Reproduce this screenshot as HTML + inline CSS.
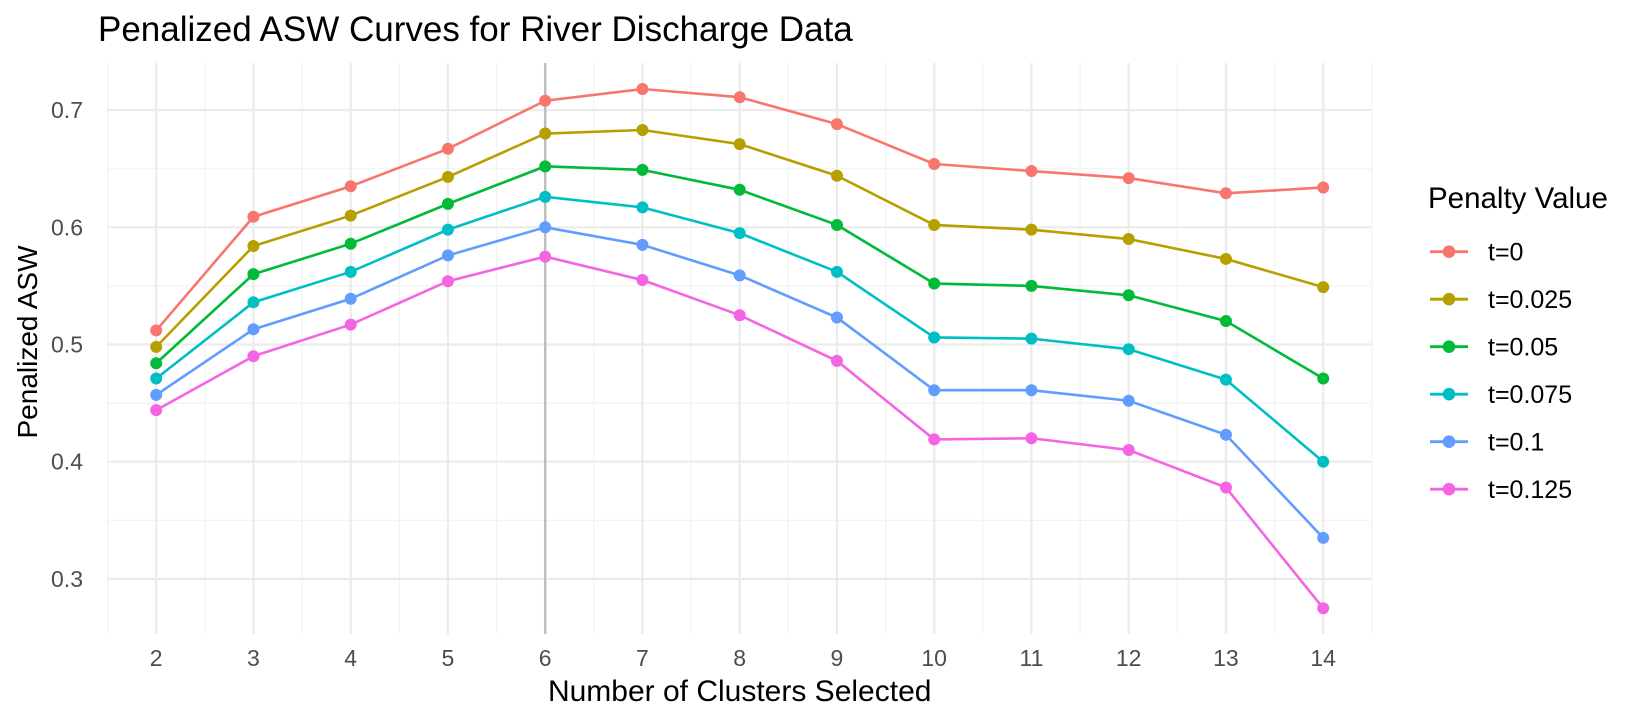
<!DOCTYPE html>
<html><head><meta charset="utf-8"><style>
html,body{margin:0;padding:0;background:#fff;}
svg text{font-family:"Liberation Sans",sans-serif;}
</style></head><body>
<svg id="s" width="1644" height="722" xmlns="http://www.w3.org/2000/svg"></svg>
<script>
const s=document.getElementById('s');
const X=k=>156.2+(k-2)*97.25, Y=v=>110.1+(0.7-v)*1172;
const T=63,B=634,L=107.6,R=1371.8;
let h='';
for(let v=0.25;v<=0.751;v+=0.1){const y=Y(v);if(y>T&&y<B)h+=`<line x1="${L}" x2="${R}" y1="${y}" y2="${y}" stroke="#f2f2f2" stroke-width="1.2"/>`;}
for(let k=1.5;k<=14.6;k+=1)h+=`<line x1="${X(k)}" x2="${X(k)}" y1="${T}" y2="${B}" stroke="#f2f2f2" stroke-width="1.2"/>`;
for(let v=0.3;v<=0.701;v+=0.1){const y=Y(v);h+=`<line x1="${L}" x2="${R}" y1="${y}" y2="${y}" stroke="#ebebeb" stroke-width="2.2"/><text x="83" y="${y+8}" text-anchor="end" font-size="23" fill="#4d4d4d">${v.toFixed(1)}</text>`;}
for(let k=2;k<=14;k++)h+=`<line x1="${X(k)}" x2="${X(k)}" y1="${T}" y2="${B}" stroke="#ebebeb" stroke-width="2.2"/><text x="${X(k)}" y="666" text-anchor="middle" font-size="23" fill="#4d4d4d">${k}</text>`;
h+=`<line x1="${X(6)}" x2="${X(6)}" y1="${T}" y2="${B}" stroke="#bebebe" stroke-width="2.5"/>`;
const cols=['#F8766D','#B79F00','#00BA38','#00BFC4','#619CFF','#F564E3'];
const names=['t=0','t=0.025','t=0.05','t=0.075','t=0.1','t=0.125'];
const d=[[.512,.609,.635,.667,.708,.718,.711,.688,.654,.648,.642,.629,.634],
[.498,.584,.610,.643,.680,.683,.671,.644,.602,.598,.590,.573,.549],
[.484,.560,.586,.620,.652,.649,.632,.602,.552,.550,.542,.520,.471],
[.471,.536,.562,.598,.626,.617,.595,.562,.506,.505,.496,.470,.400],
[.457,.513,.539,.576,.600,.585,.559,.523,.461,.461,.452,.423,.335],
[.444,.490,.517,.554,.575,.555,.525,.486,.419,.420,.410,.378,.275]];
d.forEach((r,i)=>{h+=`<polyline fill="none" stroke="${cols[i]}" stroke-width="2.6" points="${r.map((v,j)=>X(j+2)+','+Y(v)).join(' ')}"/>`;
r.forEach((v,j)=>h+=`<circle cx="${X(j+2)}" cy="${Y(v)}" r="6" fill="${cols[i]}"/>`);
const ly=251.7+47.5*i;
h+=`<line x1="1430" x2="1468" y1="${ly}" y2="${ly}" stroke="${cols[i]}" stroke-width="2.8"/><circle cx="1449" cy="${ly}" r="6.3" fill="${cols[i]}"/><text x="1488" y="${ly+9}" font-size="25" fill="#000">${names[i]}</text>`;});
h+=`<text x="1428" y="208" font-size="29.5" fill="#000">Penalty Value</text>`;
h+=`<text x="98" y="41" font-size="35" fill="#000">Penalized ASW Curves for River Discharge Data</text>`;
h+=`<text x="${(L+R)/2}" y="701" text-anchor="middle" font-size="30" fill="#000">Number of Clusters Selected</text>`;
h+=`<text transform="translate(37,342) rotate(-90)" text-anchor="middle" font-size="28" fill="#000">Penalized ASW</text>`;
s.innerHTML=h;
</script>
</body></html>
